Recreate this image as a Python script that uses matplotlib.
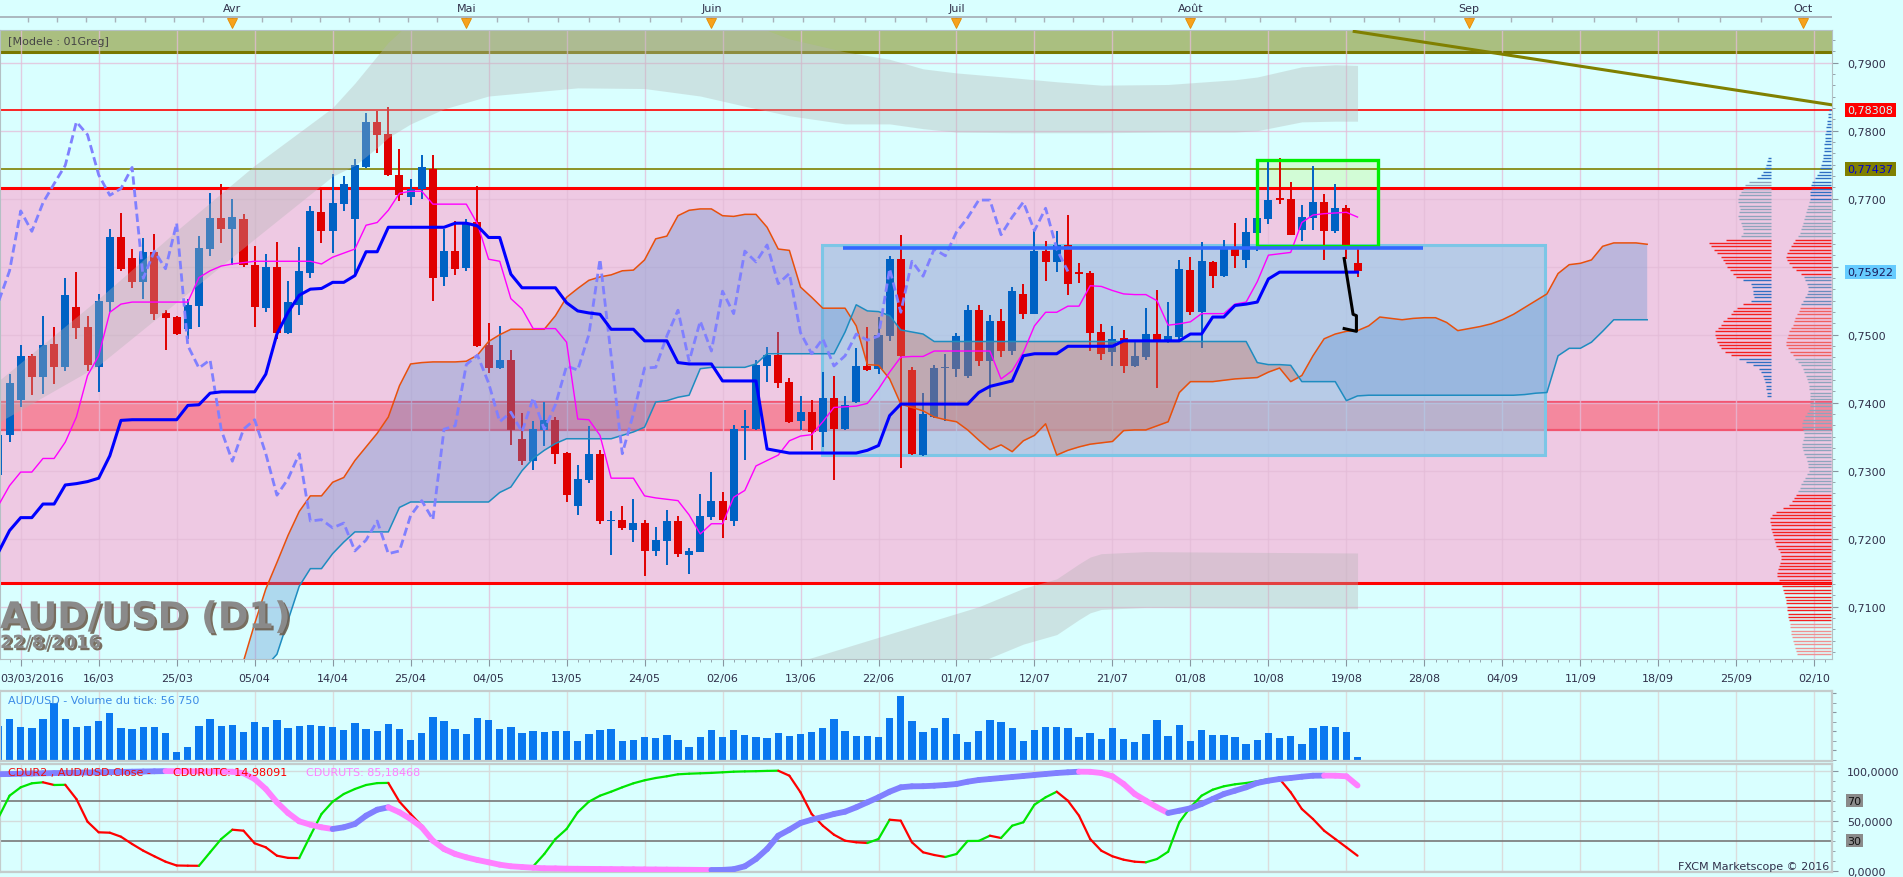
import numpy as np
import matplotlib
matplotlib.use("Agg")
import matplotlib.pyplot as plt
import matplotlib.patheffects as pe
from matplotlib.collections import LineCollection
from matplotlib.patches import Rectangle
from matplotlib.ticker import FuncFormatter, MultipleLocator, NullFormatter
from matplotlib.transforms import blended_transform_factory

# ---------------------------------------------------------------- data
# bar index 0 = 03/03/2016, one bar per trading day, last candle 22/08 = bar 120
first_bar = -2

opens = [
    0.7293, 0.7352, 0.7404, 0.7469, 0.7438, 0.7486, 0.7453, 0.7541, 0.7511, 0.7452,
    0.7548, 0.7644, 0.7613, 0.7578, 0.7621, 0.7532, 0.7526, 0.7509, 0.7542, 0.7626,
    0.7672, 0.7655, 0.7670, 0.7603, 0.7539, 0.7600, 0.7503, 0.7544, 0.7591, 0.7680,
    0.7652, 0.7692, 0.7670, 0.7747, 0.7813, 0.7795, 0.7735, 0.7702, 0.7715, 0.7744,
    0.7585, 0.7623, 0.7598, 0.7666, 0.7485, 0.7451, 0.7463, 0.7347, 0.7314, 0.7360,
    0.7375, 0.7326, 0.7248, 0.7287, 0.7325, 0.7226, 0.7228, 0.7213, 0.7223, 0.7182,
    0.7197, 0.7226, 0.7176, 0.7181, 0.7232, 0.7256, 0.7226, 0.7363, 0.7361, 0.7454,
    0.7470, 0.7431, 0.7373, 0.7386, 0.7357, 0.7407, 0.7361, 0.7401, 0.7454, 0.7450,
    0.7498, 0.7611, 0.7448, 0.7323, 0.7379, 0.7451, 0.7450, 0.7439, 0.7536, 0.7461,
    0.7520, 0.7476, 0.7560, 0.7531, 0.7623, 0.7607, 0.7632, 0.7592, 0.7591, 0.7504,
    0.7475, 0.7495, 0.7454, 0.7467, 0.7501, 0.7492, 0.7497, 0.7595, 0.7533, 0.7607,
    0.7586, 0.7626, 0.7610, 0.7650, 0.7670, 0.7701, 0.7700, 0.7654, 0.7672, 0.7695,
    0.7653, 0.7686, 0.7606,
]
highs = [
    0.7366, 0.7442, 0.7485, 0.7472, 0.7528, 0.7511, 0.7583, 0.7592, 0.7528, 0.7560,
    0.7655, 0.7679, 0.7626, 0.7642, 0.7648, 0.7536, 0.7528, 0.7553, 0.7645, 0.7708,
    0.7721, 0.7700, 0.7678, 0.7631, 0.7619, 0.7636, 0.7579, 0.7629, 0.7689, 0.7715,
    0.7736, 0.7733, 0.7758, 0.7826, 0.7829, 0.7835, 0.7773, 0.7729, 0.7764, 0.7764,
    0.7655, 0.7667, 0.7670, 0.7719, 0.7517, 0.7513, 0.7478, 0.7385, 0.7373, 0.7401,
    0.7379, 0.7327, 0.7309, 0.7366, 0.7331, 0.7241, 0.7248, 0.7259, 0.7227, 0.7217,
    0.7242, 0.7234, 0.7187, 0.7266, 0.7298, 0.7269, 0.7367, 0.7389, 0.7463, 0.7482,
    0.7504, 0.7436, 0.7410, 0.7404, 0.7445, 0.7439, 0.7410, 0.7481, 0.7511, 0.7526,
    0.7616, 0.7647, 0.7452, 0.7414, 0.7456, 0.7472, 0.7503, 0.7544, 0.7544, 0.7529,
    0.7538, 0.7570, 0.7575, 0.7654, 0.7638, 0.7653, 0.7676, 0.7606, 0.7593, 0.7516,
    0.7513, 0.7507, 0.7489, 0.7539, 0.7566, 0.7548, 0.7610, 0.7614, 0.7636, 0.7608,
    0.7639, 0.7664, 0.7672, 0.7686, 0.7755, 0.7760, 0.7725, 0.7691, 0.7748, 0.7707,
    0.7722, 0.7691, 0.7626,
]
lows = [
    0.7278, 0.7342, 0.7393, 0.7412, 0.7413, 0.7428, 0.7447, 0.7493, 0.7446, 0.7416,
    0.7534, 0.7594, 0.7569, 0.7553, 0.7521, 0.7478, 0.7499, 0.7494, 0.7511, 0.7616,
    0.7635, 0.7602, 0.7600, 0.7511, 0.7534, 0.7493, 0.7501, 0.7529, 0.7584, 0.7635,
    0.7620, 0.7682, 0.7587, 0.7745, 0.7767, 0.7734, 0.7696, 0.7691, 0.7699, 0.7549,
    0.7572, 0.7588, 0.7593, 0.7482, 0.7444, 0.7450, 0.7338, 0.7309, 0.7301, 0.7337,
    0.7310, 0.7254, 0.7235, 0.7282, 0.7222, 0.7176, 0.7213, 0.7195, 0.7145, 0.7175,
    0.7162, 0.7173, 0.7148, 0.7180, 0.7228, 0.7201, 0.7219, 0.7316, 0.7360, 0.7431,
    0.7422, 0.7370, 0.7360, 0.7331, 0.7335, 0.7287, 0.7360, 0.7400, 0.7447, 0.7442,
    0.7491, 0.7304, 0.7323, 0.7322, 0.7378, 0.7373, 0.7438, 0.7436, 0.7454, 0.7409,
    0.7467, 0.7470, 0.7523, 0.7530, 0.7579, 0.7592, 0.7558, 0.7576, 0.7476, 0.7463,
    0.7454, 0.7444, 0.7453, 0.7463, 0.7422, 0.7488, 0.7492, 0.7529, 0.7481, 0.7569,
    0.7585, 0.7598, 0.7598, 0.7623, 0.7663, 0.7692, 0.7646, 0.7638, 0.7654, 0.7610,
    0.7650, 0.7611, 0.7585,
]
closes = [
    0.7352, 0.7429, 0.7469, 0.7438, 0.7485, 0.7453, 0.7558, 0.7510, 0.7456, 0.7550,
    0.7644, 0.7596, 0.7578, 0.7621, 0.7531, 0.7525, 0.7501, 0.7544, 0.7628, 0.7672,
    0.7655, 0.7673, 0.7602, 0.7541, 0.7600, 0.7503, 0.7548, 0.7594, 0.7682, 0.7652,
    0.7694, 0.7722, 0.7749, 0.7813, 0.7794, 0.7735, 0.7705, 0.7715, 0.7746, 0.7583,
    0.7623, 0.7597, 0.7664, 0.7484, 0.7451, 0.7463, 0.7360, 0.7314, 0.7361, 0.7375,
    0.7325, 0.7264, 0.7288, 0.7325, 0.7226, 0.7228, 0.7216, 0.7223, 0.7182, 0.7198,
    0.7226, 0.7178, 0.7182, 0.7234, 0.7256, 0.7228, 0.7361, 0.7366, 0.7456, 0.7470,
    0.7429, 0.7372, 0.7386, 0.7357, 0.7407, 0.7361, 0.7397, 0.7454, 0.7448, 0.7500,
    0.7611, 0.7469, 0.7325, 0.7384, 0.7451, 0.7452, 0.7498, 0.7536, 0.7461, 0.7520,
    0.7476, 0.7564, 0.7531, 0.7623, 0.7607, 0.7632, 0.7575, 0.7590, 0.7503, 0.7472,
    0.7494, 0.7454, 0.7469, 0.7501, 0.7492, 0.7498, 0.7597, 0.7533, 0.7608, 0.7586,
    0.7626, 0.7616, 0.7651, 0.7672, 0.7698, 0.7698, 0.7647, 0.7673, 0.7695, 0.7653,
    0.7686, 0.7626, 0.7593,
]

# Ichimoku lines
tenkan = [
    0.7249, 0.7278, 0.7298, 0.7298, 0.7318, 0.7318, 0.7342, 0.7379, 0.7440, 0.7469,
    0.7533, 0.7545, 0.7548, 0.7548, 0.7548, 0.7548, 0.7548, 0.7548, 0.7584, 0.7594,
    0.7601, 0.7604, 0.7606, 0.7608, 0.7608, 0.7608, 0.7608, 0.7608, 0.7608, 0.7604,
    0.7614, 0.7620, 0.7626, 0.7661, 0.7665, 0.7683, 0.7708, 0.7711, 0.7711, 0.7692,
    0.7692, 0.7692, 0.7692, 0.7663, 0.7611, 0.7608, 0.7553, 0.7538, 0.7509, 0.7509,
    0.7509, 0.7489, 0.7376, 0.7375, 0.7352, 0.7289, 0.7289, 0.7289, 0.7263, 0.7260,
    0.7258, 0.7256, 0.7235, 0.7207, 0.7222, 0.7222, 0.7261, 0.7271, 0.7307, 0.7315,
    0.7323, 0.7344, 0.7351, 0.7353, 0.7372, 0.7393, 0.7394, 0.7395, 0.7399, 0.7420,
    0.7445, 0.7467, 0.7468, 0.7468, 0.7476, 0.7476, 0.7476, 0.7476, 0.7476, 0.7476,
    0.7435, 0.7447, 0.7474, 0.7513, 0.7533, 0.7533, 0.7542, 0.7542, 0.7572, 0.7571,
    0.7565, 0.7560, 0.7559, 0.7559, 0.7550, 0.7514, 0.7516, 0.7519, 0.7531, 0.7531,
    0.7531, 0.7545, 0.7548, 0.7578, 0.7617, 0.7619, 0.7621, 0.7665, 0.7676, 0.7678,
    0.7679, 0.7680, 0.7673,
]
kijun = [
    0.7180, 0.7212, 0.7231, 0.7231, 0.7251, 0.7251, 0.7279, 0.7281, 0.7284, 0.7289,
    0.7322, 0.7374, 0.7375, 0.7375, 0.7375, 0.7375, 0.7375, 0.7396, 0.7397, 0.7414,
    0.7416, 0.7416, 0.7416, 0.7416, 0.7442, 0.7501, 0.7533, 0.7558, 0.7567, 0.7568,
    0.7577, 0.7577, 0.7587, 0.7622, 0.7622, 0.7658, 0.7658, 0.7658, 0.7658, 0.7658,
    0.7658, 0.7664, 0.7664, 0.7660, 0.7643, 0.7643, 0.7589, 0.7569, 0.7569, 0.7569,
    0.7569, 0.7547, 0.7535, 0.7532, 0.7530, 0.7508, 0.7508, 0.7508, 0.7491, 0.7491,
    0.7491, 0.7459, 0.7457, 0.7457, 0.7457, 0.7432, 0.7432, 0.7432, 0.7432, 0.7332,
    0.7329, 0.7326, 0.7326, 0.7326, 0.7326, 0.7326, 0.7326, 0.7326, 0.7330, 0.7337,
    0.7381, 0.7398, 0.7398, 0.7398, 0.7398, 0.7398, 0.7398, 0.7398, 0.7415, 0.7424,
    0.7428, 0.7432, 0.7469, 0.7472, 0.7472, 0.7472, 0.7483, 0.7483, 0.7483, 0.7483,
    0.7483, 0.7491, 0.7491, 0.7491, 0.7491, 0.7491, 0.7491, 0.7501, 0.7501, 0.7526,
    0.7526, 0.7543, 0.7545, 0.7548, 0.7582, 0.7592, 0.7592, 0.7592, 0.7592, 0.7592,
    0.7592, 0.7592, 0.7592,
]
chikou_shift = 26

cloud_first = 20
span_a = [
    0.7020, 0.7075, 0.7126, 0.7165, 0.7205, 0.7240, 0.7263, 0.7263, 0.7283, 0.7290,
    0.7315, 0.7335, 0.7355, 0.7379, 0.7425, 0.7457, 0.7459, 0.7460, 0.7460, 0.7460,
    0.7461, 0.7470, 0.7490, 0.7500, 0.7508, 0.7508, 0.7508, 0.7508, 0.7528, 0.7555,
    0.7568, 0.7580, 0.7585, 0.7588, 0.7594, 0.7595, 0.7610, 0.7641, 0.7645, 0.7675,
    0.7683, 0.7685, 0.7685, 0.7675, 0.7674, 0.7677, 0.7677, 0.7658, 0.7626, 0.7624,
    0.7570, 0.7555, 0.7539, 0.7539, 0.7539, 0.7513, 0.7456, 0.7455, 0.7435, 0.7398,
    0.7393, 0.7388, 0.7379, 0.7375, 0.7372, 0.7360, 0.7345, 0.7331, 0.7338, 0.7328,
    0.7344, 0.7352, 0.7369, 0.7323, 0.7330, 0.7335, 0.7339, 0.7341, 0.7343, 0.7359,
    0.7360, 0.7360, 0.7366, 0.7372, 0.7415, 0.7431, 0.7431, 0.7431, 0.7433, 0.7435,
    0.7436, 0.7437, 0.7445, 0.7451, 0.7431, 0.7440, 0.7469, 0.7494, 0.7501, 0.7505,
    0.7506, 0.7513, 0.7526, 0.7524, 0.7522, 0.7524, 0.7525, 0.7525, 0.7518, 0.7506,
    0.7509, 0.7512, 0.7516, 0.7522, 0.7530, 0.7540, 0.7550, 0.7560, 0.7590, 0.7603,
    0.7605, 0.7610, 0.7630, 0.7635, 0.7635, 0.7635, 0.7633,
]
span_b = [
    0.6990, 0.7000, 0.7012, 0.7030, 0.7080, 0.7130, 0.7156, 0.7156, 0.7178, 0.7195,
    0.7210, 0.7210, 0.7210, 0.7210, 0.7246, 0.7254, 0.7254, 0.7254, 0.7254, 0.7254,
    0.7254, 0.7254, 0.7254, 0.7268, 0.7276, 0.7300, 0.7318, 0.7330, 0.7340, 0.7347,
    0.7347, 0.7347, 0.7347, 0.7347, 0.7352, 0.7357, 0.7364, 0.7401, 0.7403, 0.7408,
    0.7411, 0.7450, 0.7452, 0.7452, 0.7452, 0.7452, 0.7457, 0.7472, 0.7472, 0.7472,
    0.7472, 0.7472, 0.7472, 0.7472, 0.7504, 0.7544, 0.7535, 0.7534, 0.7528, 0.7507,
    0.7504, 0.7501, 0.7490, 0.7490, 0.7490, 0.7490, 0.7490, 0.7490, 0.7490, 0.7490,
    0.7490, 0.7490, 0.7490, 0.7490, 0.7490, 0.7490, 0.7490, 0.7490, 0.7490, 0.7490,
    0.7490, 0.7490, 0.7490, 0.7490, 0.7490, 0.7490, 0.7490, 0.7490, 0.7490, 0.7490,
    0.7490, 0.7459, 0.7456, 0.7456, 0.7455, 0.7431, 0.7431, 0.7431, 0.7431, 0.7403,
    0.7410, 0.7411, 0.7411, 0.7411, 0.7411, 0.7411, 0.7411, 0.7411, 0.7411, 0.7411,
    0.7411, 0.7411, 0.7411, 0.7411, 0.7411, 0.7412, 0.7414, 0.7415, 0.7469, 0.7480,
    0.7480, 0.7489, 0.7505, 0.7522, 0.7522, 0.7522, 0.7522,
]

# grey envelopes (sampled bars, top / bottom edges)
upper_env_bars = [-2, 7, 14, 21, 28, 30, 32, 33, 35, 38, 42, 50, 56, 61, 65, 69,
                  74, 78, 81, 84, 89, 93, 97, 103, 109, 111, 115, 118, 120]
upper_env_top = [0.7432, 0.7553, 0.7653, 0.7749, 0.7834, 0.7870, 0.7910, 0.7930,
                 0.7960, 0.7990, 0.8000, 0.8000, 0.8000, 0.7990, 0.7960, 0.7935,
                 0.7916, 0.7905, 0.7891, 0.7885, 0.7878, 0.7872, 0.7867, 0.7868,
                 0.7875, 0.7879, 0.7894, 0.7897, 0.7896]
upper_env_bot = [0.7371, 0.7455, 0.7548, 0.7641, 0.7733, 0.7749, 0.7775, 0.7790,
                 0.7810, 0.7832, 0.7851, 0.7863, 0.7862, 0.7851, 0.7836, 0.7822,
                 0.7810, 0.7810, 0.7803, 0.7798, 0.7797, 0.7797, 0.7797, 0.7798,
                 0.7798, 0.7800, 0.7813, 0.7814, 0.7814]
lower_env_bars = [66, 70, 76, 82, 86, 90, 93, 95, 96, 97, 101, 110, 120]
lower_env_top = [0.7000, 0.7020, 0.7050, 0.7080, 0.7100, 0.7127, 0.7141, 0.7163,
                 0.7173, 0.7178, 0.7181, 0.7180, 0.7179]
lower_env_bot = [0.6920, 0.6940, 0.6968, 0.6998, 0.7018, 0.7045, 0.7059, 0.7081,
                 0.7091, 0.7096, 0.7099, 0.7098, 0.7097]

# drawn objects
zone_pink = (0.71351, 0.77157)
zone_red = (0.7360, 0.7401)
model_band_low = 0.79157
level_red = 0.78308
level_olive = 0.77437
last_close_label = 0.75922
hidden_tick = 0.76          # the platform drops this label under the last-price box
trend_line = [(119.7, 0.7946), (162.6, 0.7838)]
box_blue = (71.9, 136.8, 0.7323, 0.7632)
box_green = (110.95, 121.8, 0.7630, 0.7757)
blue_level = (73.8, 125.9, 0.7628)
black_path = [(118.8, 0.7612), (119.6, 0.7530), (119.9, 0.7528), (119.9, 0.7505), (118.8, 0.7509)]

# volume-at-price profiles (length in screen px, 0.0005 price step)
profile1_top, profile1_right = 0.7760, 157.1
profile1_len = [3, 4, 5, 6, 8, 10, 14, 22, 26, 28,
                30, 32, 33, 33, 32, 31, 32, 33, 32, 30,
                29, 28, 28, 30, 45, 62, 60, 57, 54, 50,
                48, 46, 44, 41, 38, 35, 28, 20, 19, 18,
                18, 17, 20, 28, 34, 38, 40, 44, 48, 50,
                53, 56, 56, 55, 54, 52, 50, 46, 40, 32,
                25, 18, 12, 10, 8, 7, 6, 5, 5, 4,
                4]
profile2_top, profile2_right = 0.7830, 162.5
profile2_len = [2, 3, 3, 4, 4, 5, 5, 6, 6, 6,
                7, 7, 7, 8, 8, 9, 10, 11, 12, 14,
                16, 19, 20, 20, 21, 21, 21, 22, 23, 24,
                25, 26, 27, 28, 29, 30, 31, 33, 36, 38,
                40, 42, 44, 45, 44, 42, 39, 35, 30, 27,
                26, 24, 23, 23, 24, 26, 28, 30, 31, 32,
                34, 36, 37, 38, 40, 42, 43, 44, 45, 45,
                43, 41, 38, 36, 33, 30, 28, 27, 25, 24,
                23, 22, 22, 21, 21, 21, 21, 21, 22, 24,
                26, 28, 29, 29, 28, 27, 27, 28, 29, 29,
                28, 27, 25, 24, 23, 23, 22, 24, 26, 28,
                30, 31, 33, 35, 37, 39, 42, 48, 55, 59,
                61, 61, 60, 60, 59, 58, 57, 56, 55, 53,
                51, 50, 50, 51, 52, 53, 54, 54, 52, 50,
                49, 48, 47, 46, 45, 45, 44, 44, 43, 43,
                42, 41, 41, 40, 40, 39, 38, 37, 36, 35,
                34]

# tick volume (thousands); the title shows the exact last value
volume_k = [
    714, 855, 687, 666, 855, 1203, 855, 687, 708, 813,
    981, 666, 645, 687, 687, 561, 162, 267, 708, 855,
    708, 729, 582, 792, 687, 834, 666, 708, 729, 708,
    687, 624, 771, 645, 603, 750, 645, 414, 561, 897,
    813, 645, 540, 876, 834, 645, 687, 561, 603, 582,
    603, 603, 393, 540, 624, 645, 393, 414, 477, 456,
    519, 414, 267, 477, 624, 477, 624, 519, 477, 456,
    561, 498, 540, 582, 666, 855, 603, 498, 498, 477,
    876, 1338, 813, 582, 666, 876, 540, 372, 603, 834,
    792, 666, 393, 624, 687, 687, 666, 477, 561, 435,
    666, 435, 372, 540, 834, 498, 729, 393, 624, 519,
    519, 477, 330, 414, 561, 456, 498, 330, 666, 708,
    687, 582, 56.75,
]
volume_title = "AUD/USD - Volume du tick: 56 750"

# oscillator
cdur_utc = [
    53.0, 75.0, 83.4, 87.4, 88.4, 85.7, 85.9, 71.7, 49.0, 38.4,
    38.0, 34.0, 26.7, 20.0, 14.4, 9.0, 5.2, 5.0, 4.9, 18.4,
    31.7, 41.0, 40.0, 27.4, 23.4, 15.0, 12.8, 12.6, 35.0, 56.7,
    69.0, 76.7, 81.7, 85.7, 87.6, 87.8, 69.0, 56.7, 45.0, 30.0,
    20.0, 16.7, 13.4, 11.0, 8.4, 6.0, 5.0, 4.6, 4.3, 16.7,
    31.7, 41.7, 58.4, 69.0, 75.0, 79.0, 83.4, 87.4, 90.4, 92.7,
    94.4, 96.4, 97.0, 97.4, 97.8, 98.4, 99.0, 99.3, 99.5, 99.8,
    100.0, 95.0, 78.4, 56.7, 45.0, 36.0, 30.0, 28.4, 27.7, 31.7,
    51.0, 50.0, 28.4, 18.4, 15.7, 13.7, 16.7, 29.7, 29.8, 35.0,
    32.7, 45.0, 48.4, 66.0, 73.4, 79.0, 70.0, 55.0, 31.7, 20.0,
    14.4, 11.0, 9.0, 8.4, 11.7, 19.0, 48.4, 63.4, 75.0, 81.0,
    84.4, 86.4, 87.7, 89.4, 91.6, 91.8, 78.4, 61.7, 51.7, 40.0,
    31.7, 23.4, 14.98091,
]
cdur_uts = [
    96.5, 96.7, 97.0, 97.2, 97.4, 97.6, 97.8, 98.0, 98.2, 98.4,
    98.6, 98.8, 99.0, 99.2, 99.4, 99.6, 99.5, 99.4, 99.3, 99.2,
    99.1, 99.0, 97.5, 91.7, 81.7, 68.4, 57.7, 49.4, 46.0, 43.4,
    41.7, 43.4, 46.7, 55.0, 61.0, 63.4, 58.4, 51.7, 43.4, 30.0,
    21.7, 16.7, 13.4, 10.7, 8.4, 6.0, 4.4, 3.7, 3.0, 2.4,
    2.3, 2.0, 1.9, 1.8, 1.7, 1.6, 1.5, 1.4, 1.3, 1.2,
    1.1, 1.0, 0.9, 0.8, 0.7, 0.8, 1.5, 4.4, 11.7, 21.7,
    35.0, 41.0, 47.7, 51.0, 53.7, 56.7, 59.0, 63.4, 68.4, 73.4,
    79.0, 83.4, 84.4, 84.5, 85.0, 85.7, 86.7, 89.0, 90.7, 91.7,
    92.7, 93.7, 94.7, 95.7, 96.7, 97.7, 98.4, 99.0, 98.9, 97.7,
    94.4, 86.7, 76.7, 70.0, 63.4, 57.7, 60.0, 62.4, 66.7, 71.7,
    76.7, 80.0, 83.4, 87.7, 90.0, 91.7, 92.7, 94.0, 95.0, 95.1,
    95.0, 94.4, 85.18468,
]

grid_labels = ["03/03/2016", "16/03", "25/03", "05/04", "14/04", "25/04", "04/05",
               "13/05", "24/05", "02/06", "13/06", "22/06", "01/07", "12/07", "21/07",
               "01/08", "10/08", "19/08", "28/08", "04/09", "11/09", "18/09", "25/09",
               "02/10"]
grid_step = 7
month_names = ["Avr", "Mai", "Juin", "Juil", "Août", "Sep", "Oct"]
month_bars = [19, 40, 62, 84, 105, 130, 160]
march_bar = -2

# ---------------------------------------------------------------- style
BG = "#d9ffff"
PINK = "#eec9e3"
BLUE_C = "#0062c4"
RED_C = "#e00000"
TXT = "#30304a"
GRIDC = "#e4bcd8"
PB, PG, PR, PR2, PR3, PB2 = "#2f6fc2", "#8ea4bc", "#f42020", "#f06060", "#f09090", "#6a8cbc"
profile1_bands = [(0.7728, 0.7765, PB), (0.7643, 0.7727, PG), (0.7583, 0.7642, PR),
                  (0.7548, 0.7582, PB), (0.7468, 0.7547, PR), (0.7400, 0.7467, PB)]
profile2_bands = [(0.7698, 0.7840, PB), (0.7643, 0.7697, PG), (0.7588, 0.7642, PR),
                  (0.7543, 0.7587, PB2), (0.7468, 0.7542, PR2), (0.7268, 0.7467, PG),
                  (0.7078, 0.7267, PR), (0.7000, 0.7077, PR3)]

W, H = 1903, 878
PX_PER_BAR = 11.14
X_LEFT, X_RIGHT = -1.858, 162.59
Y_LOW, Y_HIGH = 0.70231, 0.79481

plt.rcParams["font.family"] = ["DejaVu Sans"]

fig = plt.figure(figsize=(W / 100, H / 100), dpi=100)
fig.patch.set_facecolor(BG)


def px_axes(left, top, right, bottom):
    return fig.add_axes([left / W, 1 - bottom / H, (right - left) / W, (bottom - top) / H])


def colored_line(axis, x, y, up_col, down_col, lw, z):
    pts = np.column_stack([x, y])
    segs = np.stack([pts[:-1], pts[1:]], axis=1)
    cols = [up_col if b >= a else down_col for a, b in zip(y[:-1], y[1:])]
    axis.add_collection(LineCollection(segs, colors=cols, linewidths=lw,
                                       zorder=z, capstyle="round"))


def draw_profile(axis, top, lengths, right, bands):
    lv = top - 0.0005 * np.arange(len(lengths))
    ln = np.array(lengths) / PX_PER_BAR
    cols = []
    for p in lv:
        c = PG
        for lo, hi, bc in bands:
            if lo <= p <= hi:
                c = bc
                break
        cols.append(c)
    axis.hlines(lv, right - ln, right, colors=cols, lw=1.0, zorder=3.5)


def comma(v, pos=None):
    if abs(v - hidden_tick) < 1e-6:
        return ""
    return f"{v:.4f}".replace(".", ",")


bars = np.arange(first_bar, first_bar + len(closes))
o, h, l, c = map(np.array, (opens, highs, lows, closes))
grid_pos = np.arange(len(grid_labels)) * grid_step

# ---------------------------------------------------------------- main panel
ax = px_axes(0, 31, 1832, 660)
ax.set_facecolor(BG)
ax.set_xlim(X_LEFT, X_RIGHT)
ax.set_ylim(Y_LOW, Y_HIGH)

# zones
ax.add_patch(Rectangle((box_green[0], box_green[2]), box_green[1] - box_green[0],
                       box_green[3] - box_green[2], fc="#d2fcd6", ec="none", zorder=0.8))
ax.axhspan(zone_pink[0], zone_pink[1], color=PINK, zorder=1.0, lw=0)
ax.axhspan(zone_red[0], zone_red[1], color="#f4889e", zorder=1.2, lw=0)
for yv in zone_red:
    ax.axhline(yv, color="#f25570", lw=1.6, zorder=1.25)
ax.axhspan(model_band_low, 0.8, color="#aabf80", zorder=1.0, lw=0)
ax.axhline(model_band_low, color="#787800", lw=2.2, zorder=1.3)

# grid
for gx in grid_pos:
    ax.axvline(gx, color=GRIDC, lw=1.0, alpha=0.75, zorder=1.5)
for gy in np.arange(0.71, 0.7901, 0.01):
    ax.axhline(gy, color=GRIDC, lw=1.0, alpha=0.75, zorder=1.5)

# level lines
for yv in zone_pink:
    ax.axhline(yv, color="#ff0000", lw=2.2, zorder=1.6)
ax.axhline(level_red, color="#ff0000", lw=1.2, zorder=1.6)
ax.axhline(level_olive, color="#808000", lw=1.2, zorder=1.6)

# blue analysis box
ax.add_patch(Rectangle((box_blue[0], box_blue[2]), box_blue[1] - box_blue[0],
                       box_blue[3] - box_blue[2], fc=(150 / 255, 205 / 255, 235 / 255),
                       alpha=0.62, ec="none", zorder=1.8))
ax.add_patch(Rectangle((box_blue[0], box_blue[2]), box_blue[1] - box_blue[0],
                       box_blue[3] - box_blue[2], fc="none", ec="#7cc6e6", lw=2.2, zorder=1.9))

# candles
col = np.where(c >= o, BLUE_C, RED_C)
ax.vlines(bars, l, h, colors=col, lw=1.4, zorder=2.0)
ax.bar(bars, np.maximum(np.abs(c - o), 0.00018), bottom=np.minimum(o, c), width=0.72,
       color=col, lw=0, zorder=2.05)

# grey envelopes
ax.fill_between(upper_env_bars, upper_env_bot, upper_env_top, color="#b4b4b4",
                alpha=0.36, lw=0, zorder=2.5)
ax.fill_between(lower_env_bars, lower_env_bot, lower_env_top, color="#b4b4b4",
                alpha=0.36, lw=0, zorder=2.5)

# cloud
cx = np.arange(cloud_first, cloud_first + len(span_a))
sa, sb = np.array(span_a), np.array(span_b)
ax.fill_between(cx, sa, sb, where=sa >= sb, interpolate=True,
                color=(100 / 255, 150 / 255, 210 / 255), alpha=0.36, lw=0, zorder=2.6)
ax.fill_between(cx, sa, sb, where=sa < sb, interpolate=True,
                color=(205 / 255, 120 / 255, 100 / 255), alpha=0.4, lw=0, zorder=2.6)
ax.plot(cx, sa, color="#e8500c", lw=1.1, zorder=2.7)
ax.plot(cx, sb, color="#1e8cc0", lw=1.1, zorder=2.7)

# ichimoku lines
ax.plot(bars[chikou_shift:] - chikou_shift, c[chikou_shift:], color="#8080ff", lw=2.0,
        ls=(0, (3, 1.5)), zorder=3.0)
ax.plot(bars, tenkan, color="#ff00ff", lw=1.0, zorder=3.1)
ax.plot(bars, kijun, color="#0000ff", lw=2.2, zorder=3.2)

# drawings
ax.add_patch(Rectangle((box_green[0], box_green[2]), box_green[1] - box_green[0],
                       box_green[3] - box_green[2], fc="none", ec="#00ee00", lw=2.4, zorder=3.3))
ax.hlines(blue_level[2], blue_level[0], blue_level[1], color="#3366ff", lw=2.6, zorder=3.3)
ax.plot(*zip(*black_path), color="black", lw=2.2, zorder=3.4)
ax.plot(*zip(*trend_line), color="#808000", lw=2.2, zorder=3.4)

draw_profile(ax, profile1_top, profile1_len, profile1_right, profile1_bands)
draw_profile(ax, profile2_top, profile2_len, profile2_right, profile2_bands)

# axes cosmetics
for s in ax.spines.values():
    s.set_color("#b4c0c4")
ax.yaxis.tick_right()
ax.set_yticks(np.round(np.arange(0.71, 0.7901, 0.01), 2))
ax.yaxis.set_major_formatter(FuncFormatter(comma))
ax.yaxis.set_minor_locator(MultipleLocator(0.01 / 6))
ax.tick_params(axis="y", which="major", length=4, color="#8896a0", labelsize=8,
               labelcolor=TXT, pad=7)
ax.tick_params(axis="y", which="minor", length=2.5, color="#8896a0")
ax.set_xticks(grid_pos)
ax.xaxis.set_major_formatter(NullFormatter())
ax.xaxis.set_minor_locator(MultipleLocator(1))
ax.tick_params(axis="x", which="major", length=5, color="#8896a0")
ax.tick_params(axis="x", which="minor", length=2.5, color="#8896a0")

tr_x = blended_transform_factory(ax.transData, ax.transAxes)
for k, lab in enumerate(grid_labels):
    if k == 0:
        ax.text(X_LEFT + 0.05, -0.030, lab, transform=tr_x, ha="left", va="center",
                fontsize=8, color=TXT, clip_on=False)
    else:
        ax.text(grid_pos[k], -0.030, lab, transform=tr_x, ha="center", va="center",
                fontsize=8, color=TXT, clip_on=False)

tr_y = blended_transform_factory(ax.transAxes, ax.transData)
for val, fc, tc in [(level_red, "#ff0000", "#c8ffff"),
                    (level_olive, "#808000", "#0000d0"),
                    (last_close_label, "#66ccff", "#1a1a5a")]:
    ax.text(1.0085, val, f"{val:.5f}".replace(".", ","), transform=tr_y, fontsize=8,
            color=tc, ha="left", va="center", clip_on=False, zorder=10,
            bbox=dict(boxstyle="square,pad=0.2", fc=fc, ec="none"))

ax.text(0.0045, 0.983, "[Modele : 01Greg]", transform=ax.transAxes, fontsize=8,
        color="#454545", ha="left", va="center", zorder=5)
shadow = [pe.SimplePatchShadow(offset=(1.6, -1.6), shadow_rgbFace="#6e5e4e", alpha=0.9),
          pe.Normal()]
ax.text(0.0, 0.049, "AUD/USD (D1)", transform=ax.transAxes, fontsize=26.5,
        fontweight="bold", color="#8a8a8a", ha="left", va="baseline", zorder=6,
        path_effects=shadow)
ax.text(0.0, 0.0175, "22/8/2016", transform=ax.transAxes, fontsize=13,
        fontweight="bold", color="#8a8a8a", ha="left", va="baseline", zorder=6,
        path_effects=shadow)

# ---------------------------------------------------------------- month strip
ax_top = px_axes(0, 0, 1832, 31)
ax_top.set_xlim(X_LEFT, X_RIGHT)
ax_top.set_ylim(31, 0)
ax_top.axis("off")
ax_top.axhline(18, color="#a8b2ba", lw=1.3)
starts = [march_bar] + month_bars
for a, b in zip(starts[:-1], starts[1:]):
    ax_top.vlines(np.linspace(a, b, 9)[:-1], 18, 23, color="#a8b2ba", lw=1.0)
last_gap = (month_bars[-1] - month_bars[-2]) / 8
ax_top.vlines(np.arange(month_bars[-1], X_RIGHT, last_gap), 18, 23, color="#a8b2ba", lw=1.0)
ax_top.plot(month_bars, [23.5] * len(month_bars), "v", ms=7, color="#f6a21c",
            mec="#e38b00", mew=0.6)
for mb, name in zip(month_bars, month_names):
    ax_top.text(mb, 8.5, name, ha="center", va="center", fontsize=8, color=TXT)

# ---------------------------------------------------------------- volume panel
ax_vol = px_axes(0, 692, 1832, 762)
ax_vol.set_facecolor(BG)
ax_vol.set_xlim(X_LEFT, X_RIGHT)
ax_vol.set_ylim(-21, 1449)
for gx in grid_pos:
    ax_vol.axvline(gx, color="#dcdcdc", lw=1.0, zorder=0.5)
ax_vol.bar(bars, volume_k, width=0.66, color="#0a78f0", lw=0, zorder=2)
ax_vol.set_xticks([])
ax_vol.yaxis.tick_right()
ax_vol.set_yticks([200, 600, 1000, 1400])
ax_vol.yaxis.set_major_formatter(NullFormatter())
ax_vol.yaxis.set_minor_locator(MultipleLocator(200))
ax_vol.tick_params(axis="y", which="both", length=3, color="#8896a0")
for s in ax_vol.spines.values():
    s.set_color("#c4cccc")
    s.set_linewidth(1.6)
ax_vol.text(0.0045, 0.87, volume_title, transform=ax_vol.transAxes, fontsize=8,
            color="#3a8ae6", ha="left", va="center")

# ---------------------------------------------------------------- oscillator
ax_osc = px_axes(0, 765, 1832, 873)
ax_osc.set_facecolor(BG)
ax_osc.set_xlim(X_LEFT, X_RIGHT)
ax_osc.set_ylim(-1.3, 106.7)
for gx in grid_pos:
    ax_osc.axvline(gx, color="#dcdcdc", lw=1.0, zorder=0.5)
for gy in (0, 50, 100):
    ax_osc.axhline(gy, color="#d4dcdc", lw=1.0, zorder=0.5)
for gy in (70, 30):
    ax_osc.axhline(gy, color="#787878", lw=1.2, zorder=1)
colored_line(ax_osc, bars, np.array(cdur_utc), "#00e600", "#ff0000", 1.6, 3)
colored_line(ax_osc, bars, np.array(cdur_uts), "#8080ff", "#ff80ff", 4.2, 4)
ax_osc.set_xticks([])
ax_osc.yaxis.tick_right()
ax_osc.set_yticks([0, 50, 100])
ax_osc.set_yticklabels(["0,0000", "50,0000", "100,0000"])
ax_osc.yaxis.set_minor_locator(MultipleLocator(10))
ax_osc.tick_params(axis="y", which="major", length=4, color="#8896a0", labelsize=8,
                   labelcolor=TXT, pad=7)
ax_osc.tick_params(axis="y", which="minor", length=2.5, color="#8896a0")
for s in ax_osc.spines.values():
    s.set_color("#c4cccc")
    s.set_linewidth(1.6)
tr_o = blended_transform_factory(ax_osc.transAxes, ax_osc.transData)
for lv in (70, 30):
    ax_osc.text(1.0085, lv, str(lv), transform=tr_o, fontsize=8, color="#111111",
                ha="left", va="center", clip_on=False,
                bbox=dict(boxstyle="square,pad=0.15", fc="#8a8a8a", ec="none"))
ax_osc.text(0.0045, 0.925, "CDUR2 , AUD/USD.Close -", transform=ax_osc.transAxes,
            fontsize=8, color="#ee1010", ha="left", va="center", zorder=5)
ax_osc.text(173 / 1832, 0.925, f"CDURUTC: {cdur_utc[-1]:.5f}".replace(".", ","),
            transform=ax_osc.transAxes, fontsize=8, color="#ff0000", ha="left",
            va="center", zorder=5)
ax_osc.text(306 / 1832, 0.925, f"CDURUTS: {cdur_uts[-1]:.5f}".replace(".", ","),
            transform=ax_osc.transAxes, fontsize=8, color="#ff80ff", ha="left",
            va="center", zorder=5)
ax_osc.text(0.9985, 0.01, "FXCM Marketscope © 2016", transform=ax_osc.transAxes,
            fontsize=8, color=TXT, ha="right", va="bottom", zorder=5)

fig.savefig("out.png", dpi=100, facecolor=BG)
